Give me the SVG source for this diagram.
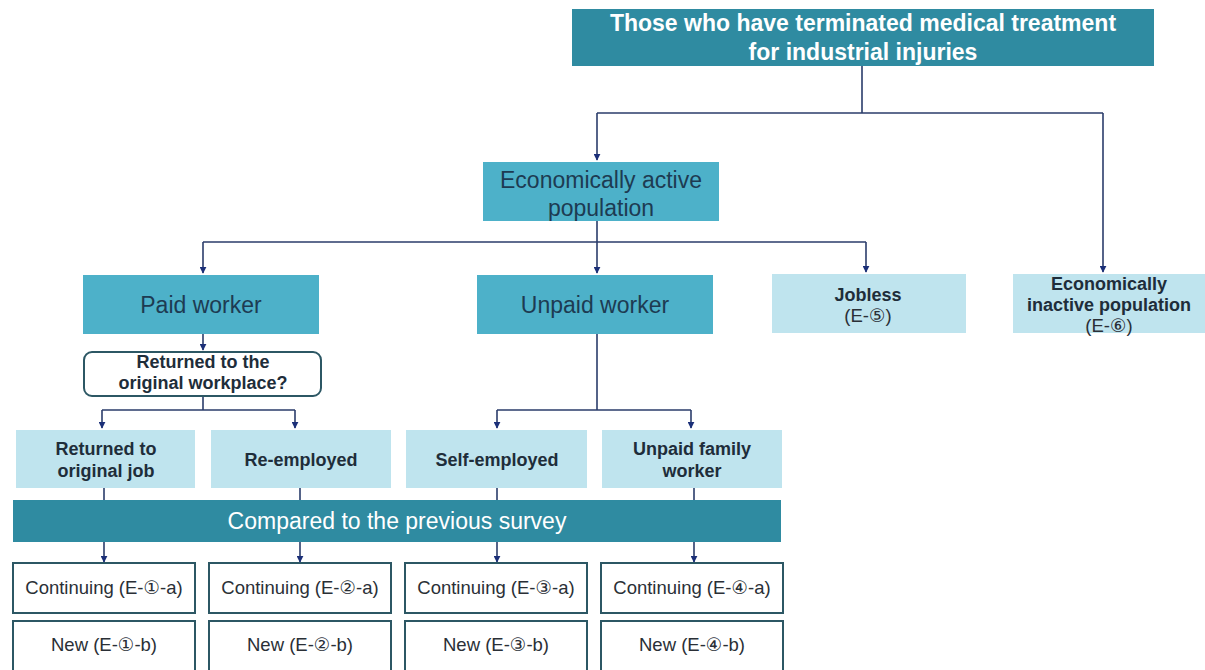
<svg xmlns="http://www.w3.org/2000/svg" width="1205" height="670" viewBox="0 0 1205 670">
<style>
text{font-family:"Liberation Sans","DejaVu Sans",Arial,sans-serif;text-anchor:middle}
.dark{fill:#2f8ba1}
.mid{fill:#4db1c9}
.light{fill:#bfe4ee}
.outline{fill:#fff;stroke:#2c5764;stroke-width:2}
.wt{fill:#fff;font-weight:bold;font-size:23px}
.mt{fill:#1d3b52;font-size:23px}
.bt{fill:#1e2d3a;font-weight:bold;font-size:18px}
.nt{fill:#2a2f36;font-size:18.5px}
.cw{fill:#fff;font-size:23px}
.ln{fill:none;stroke:#2b3d6b;stroke-width:1.6}
</style>
<defs>
<marker id="ah" viewBox="0 0 10 10" refX="9" refY="5" markerWidth="7" markerHeight="7" markerUnits="userSpaceOnUse" orient="auto">
<path d="M0,0 L10,5 L0,10 Z" fill="#1b2f78"/>
</marker>
</defs>
<g id="connectors">
<path class="ln" d="M862,66 V113 M597,113 H1103"/>
<path class="ln" d="M597,113 V160" marker-end="url(#ah)"/>
<path class="ln" d="M1103,113 V272" marker-end="url(#ah)"/>
<path class="ln" d="M597,221 V242 M203,242 H866"/>
<path class="ln" d="M203,242 V273" marker-end="url(#ah)"/>
<path class="ln" d="M597,242 V273" marker-end="url(#ah)"/>
<path class="ln" d="M866,242 V272" marker-end="url(#ah)"/>
<path class="ln" d="M203,334 V350" marker-end="url(#ah)"/>
<path class="ln" d="M203,396 V410 M102,410 H295"/>
<path class="ln" d="M102,410 V428" marker-end="url(#ah)"/>
<path class="ln" d="M295,410 V428" marker-end="url(#ah)"/>
<path class="ln" d="M597,334 V410 M497,410 H691"/>
<path class="ln" d="M497,410 V428" marker-end="url(#ah)"/>
<path class="ln" d="M691,410 V428" marker-end="url(#ah)"/>
<path class="ln" d="M104,488 V500 M300,488 V500 M497,488 V500 M694,488 V500"/>
<path class="ln" d="M104,542 V562" marker-end="url(#ah)"/>
<path class="ln" d="M300,542 V562" marker-end="url(#ah)"/>
<path class="ln" d="M497,542 V562" marker-end="url(#ah)"/>
<path class="ln" d="M694,542 V562" marker-end="url(#ah)"/>
</g>
<g id="top">
<rect class="dark" x="572" y="9" width="582" height="57"/>
<text class="wt" x="863" y="31">Those who have terminated medical treatment</text>
<text class="wt" x="863" y="60">for industrial injuries</text>
</g>
<g id="active">
<rect class="mid" x="483" y="162" width="236" height="59"/>
<text class="mt" x="601" y="188">Economically active</text>
<text class="mt" x="601" y="216">population</text>
</g>
<g id="paid">
<rect class="mid" x="83" y="275" width="236" height="59"/>
<text class="mt" x="201" y="313">Paid worker</text>
</g>
<g id="unpaid">
<rect class="mid" x="477" y="275" width="236" height="59"/>
<text class="mt" x="595" y="313">Unpaid worker</text>
</g>
<g id="jobless">
<rect class="light" x="772" y="274" width="194" height="59"/>
<text class="bt" x="868" y="301">Jobless</text>
<text class="nt" x="868" y="322">(E-⑤)</text>
</g>
<g id="inactive">
<rect class="light" x="1013" y="274" width="192" height="59"/>
<text class="bt" x="1109" y="290">Economically</text>
<text class="bt" x="1109" y="311">inactive population</text>
<text class="nt" x="1109" y="332">(E-⑥)</text>
</g>
<g id="question">
<rect class="outline" x="84" y="352" width="237" height="44" rx="8"/>
<text class="bt" x="203" y="368">Returned to the</text>
<text class="bt" x="203" y="389">original workplace?</text>
</g>
<g id="returned">
<rect class="light" x="16" y="430" width="179" height="58"/>
<text class="bt" x="106" y="455">Returned to</text>
<text class="bt" x="106" y="477">original job</text>
</g>
<g id="reemployed">
<rect class="light" x="211" y="430" width="180" height="58"/>
<text class="bt" x="301" y="466">Re-employed</text>
</g>
<g id="selfemployed">
<rect class="light" x="406" y="430" width="181" height="58"/>
<text class="bt" x="497" y="466">Self-employed</text>
</g>
<g id="family">
<rect class="light" x="602" y="430" width="180" height="58"/>
<text class="bt" x="692" y="455">Unpaid family</text>
<text class="bt" x="692" y="477">worker</text>
</g>
<g id="compared">
<rect class="dark" x="13" y="500" width="768" height="42"/>
<text class="cw" x="397" y="529">Compared to the previous survey</text>
</g>
<g id="c1"><rect class="outline" x="13" y="563" width="182" height="50"/><text class="nt" x="104" y="594">Continuing (E-①-a)</text></g>
<g id="c2"><rect class="outline" x="209" y="563" width="182" height="50"/><text class="nt" x="300" y="594">Continuing (E-②-a)</text></g>
<g id="c3"><rect class="outline" x="405" y="563" width="182" height="50"/><text class="nt" x="496" y="594">Continuing (E-③-a)</text></g>
<g id="c4"><rect class="outline" x="601" y="563" width="182" height="50"/><text class="nt" x="692" y="594">Continuing (E-④-a)</text></g>
<g id="n1"><rect class="outline" x="13" y="621" width="182" height="52"/><text class="nt" x="104" y="651">New (E-①-b)</text></g>
<g id="n2"><rect class="outline" x="209" y="621" width="182" height="52"/><text class="nt" x="300" y="651">New (E-②-b)</text></g>
<g id="n3"><rect class="outline" x="405" y="621" width="182" height="52"/><text class="nt" x="496" y="651">New (E-③-b)</text></g>
<g id="n4"><rect class="outline" x="601" y="621" width="182" height="52"/><text class="nt" x="692" y="651">New (E-④-b)</text></g>
</svg>
